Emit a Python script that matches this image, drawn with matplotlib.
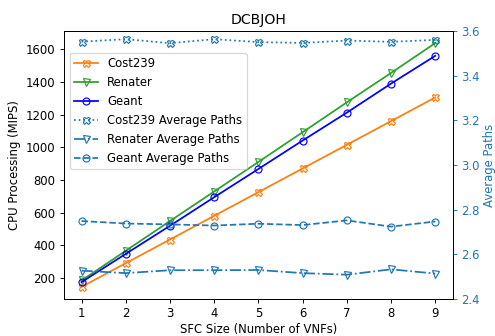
import matplotlib
matplotlib.use("Agg")
import matplotlib.pyplot as plt

sfc_sizes = [1, 2, 3, 4, 5, 6, 7, 8, 9]

# CPU processing (MIPS), left axis
cpu_cost239 = [145, 290, 435, 580, 725, 870, 1015, 1160, 1305]
cpu_renater = [184, 366, 548, 729, 910, 1092, 1275, 1455, 1638]
cpu_geant = [174, 347, 519, 694, 867, 1041, 1212, 1390, 1560]

# Average paths, right axis
paths_cost239 = [3.552, 3.563, 3.545, 3.563, 3.550, 3.546, 3.557, 3.551, 3.560]
paths_renater = [2.527, 2.516, 2.529, 2.529, 2.530, 2.516, 2.509, 2.533, 2.514]
paths_geant = [2.749, 2.738, 2.734, 2.729, 2.737, 2.731, 2.752, 2.724, 2.747]

dpi = 84
fig, ax1 = plt.subplots(figsize=(495 / dpi, 336 / dpi), dpi=dpi)
fig.subplots_adjust(left=0.129, right=0.915, top=0.908, bottom=0.11)
ax2 = ax1.twinx()

l1, = ax1.plot(sfc_sizes, cpu_cost239, color='tab:orange', marker='X', fillstyle='none', label='Cost239')
l2, = ax1.plot(sfc_sizes, cpu_renater, color='tab:green', marker='v', fillstyle='none', label='Renater')
l3, = ax1.plot(sfc_sizes, cpu_geant, color='blue', marker='o', fillstyle='none', label='Geant')

l4, = ax2.plot(sfc_sizes, paths_cost239, color='tab:blue', ls=':', marker='X', fillstyle='none',
               label='Cost239 Average Paths')
l5, = ax2.plot(sfc_sizes, paths_renater, color='tab:blue', ls='-.', marker='v', fillstyle='none',
               label='Renater Average Paths')
l6, = ax2.plot(sfc_sizes, paths_geant, color='tab:blue', ls='--', marker='o', fillstyle='none',
               label='Geant Average Paths')

ax1.set_xlabel('SFC Size (Number of VNFs)', labelpad=2)
ax1.set_ylabel('CPU Processing (MIPS)')
ax1.set_xticks(sfc_sizes)
ax1.set_title('DCBJOH')

ax2.set_ylim(2.4, 3.6)
ax2.set_ylabel('Average Paths', color='tab:blue', labelpad=3)
ax2.tick_params(axis='y', labelcolor='tab:blue', color='tab:blue')

lines = [l1, l2, l3, l4, l5, l6]
ax2.legend(lines, [l.get_label() for l in lines], loc='upper left', bbox_to_anchor=(0, 0.94))

fig.savefig('out.png', dpi=dpi)
